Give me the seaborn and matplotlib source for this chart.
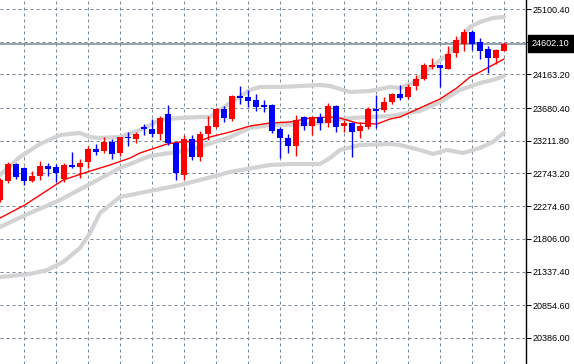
import numpy as np
import pandas as pd
import matplotlib
matplotlib.use("Agg")
import matplotlib.pyplot as plt
import matplotlib.transforms as mtransforms
import seaborn as sns

# ---- OHLC candles (one per bar, oldest first) ----
opens = [22363, 22636, 22879, 22822, 22636, 22707, 22851, 22836, 22664, 22865,
         22836, 22908, 23094, 23066, 23195, 23037, 23266, 23238, 23410, 23381,
         23309, 23596, 23180, 22722, 23238, 22980, 23309, 23410, 23667, 23524,
         23854, 23839, 23796, 23725, 23725, 23381, 23252, 23137, 23553, 23424,
         23553, 23467, 23710, 23424, 23467, 23352, 23410, 23667, 23653, 23768,
         23882, 23839, 23997, 24097, 24269, 24298, 24241, 24470, 24599, 24771,
         24628, 24527, 24398, 24499]
highs = [22679, 22908, 22894, 22836, 22779, 22922, 22894, 22879, 22894, 23051,
         22951, 23137, 23166, 23266, 23238, 23266, 23338, 23338, 23452, 23524,
         23567, 23725, 23195, 23295, 23295, 23352, 23567, 23682, 23710, 23868,
         23997, 23940, 23882, 23796, 23739, 23410, 23309, 23581, 23567, 23567,
         23610, 23753, 23725, 23510, 23481, 23481, 23696, 23868, 23840, 23897,
         24011, 24026, 24155, 24327, 24398, 24305, 24570, 24714, 24814, 24800,
         24685, 24570, 24527, 24628]
lows = [22335, 22607, 22664, 22578, 22621, 22650, 22707, 22621, 22621, 22822,
        22679, 22822, 23008, 23037, 22951, 22994, 23137, 23180, 23295, 23266,
        23223, 23152, 22650, 22650, 22937, 22922, 23223, 23395, 23481, 23496,
        23739, 23696, 23639, 23624, 23324, 22965, 23037, 22994, 23367, 23295,
        23367, 23410, 23338, 23338, 22980, 23252, 23381, 23395, 23624, 23739,
        23796, 23811, 23940, 24083, 24241, 23983, 24241, 24413, 24499, 24513,
        24384, 24183, 24313, 24499]
closes = [22650, 22879, 22693, 22636, 22707, 22851, 22808, 22750, 22865, 22836,
          22894, 23094, 23051, 23195, 23023, 23266, 23252, 23309, 23381, 23309,
          23539, 23180, 22751, 23238, 22980, 23309, 23424, 23667, 23539, 23854,
          23825, 23782, 23696, 23696, 23352, 23252, 23137, 23510, 23424, 23553,
          23467, 23710, 23410, 23467, 23338, 23424, 23667, 23639, 23768, 23882,
          23825, 23983, 24097, 24298, 24298, 24255, 24456, 24656, 24771, 24599,
          24499, 24398, 24513, 24602.10]

# ---- red moving average (bar index, value) ----
ma_bar = [0, 3.1, 5.4, 7.9, 10.9, 13.75, 16.25, 17.5, 20.9, 22.5, 25, 26.25,
          28.75, 31.25, 33.75, 36.25, 38.75, 41.25, 42.5, 44.6, 47.1, 48.75,
          50, 52.5, 55, 57.1, 58.75, 60, 61.6, 63]
ma_val = [22105, 22292, 22464, 22650, 22765, 22865, 22965, 23037, 23166, 23195,
          23209, 23266, 23338, 23424, 23467, 23481, 23538, 23553, 23538, 23467,
          23452, 23524, 23553, 23682, 23811, 23968, 24126, 24198, 24298, 24384]

# ---- Bollinger bands (bar index, value) ----
upper_bar = [0, 2.5, 5, 7.5, 10, 11.25, 12.5, 15, 17.5, 20, 22.5, 25, 26.25,
             28.75, 31.25, 32.5, 35, 37.5, 40, 41.25, 42.5, 43.75, 46.25, 48.75,
             50, 51.6, 53.75, 55.9, 57.5, 58.75, 60, 61.6, 63]
upper_val = [22722, 22980, 23166, 23295, 23324, 23266, 23252, 23266, 23367, 23510,
             23539, 23553, 23553, 23753, 23940, 23983, 23983, 23997, 24011, 23997,
             23954, 23911, 23925, 23983, 23968, 24040, 24255, 24441, 24656, 24843,
             24914, 24972, 24986]
mid_bar = [0, 3.75, 7.5, 11.25, 15, 18.75, 23.75, 28.75, 31.25, 33.75, 38.75,
           41.25, 43.75, 48.75, 52.5, 55, 57.5, 60, 61.6, 63]
mid_val = [21977, 22177, 22363, 22593, 22822, 22994, 23080, 23266, 23395, 23438,
           23452, 23496, 23538, 23567, 23639, 23768, 23940, 24040, 24083, 24140]
lower_bar = [0, 3.75, 5.9, 7.9, 10, 11.25, 12.5, 15, 17.5, 20, 22.5, 25, 28.75,
             33.75, 36.25, 40, 41.25, 42.5, 45, 48.75, 50, 52.5, 54.1, 55.9,
             57.9, 60, 61.6, 63]
lower_val = [21260, 21303, 21360, 21475, 21676, 21890, 22177, 22406, 22464, 22521,
             22578, 22650, 22765, 22865, 22879, 22879, 22965, 23080, 23152, 23166,
             23152, 23080, 23023, 23080, 23037, 23109, 23195, 23324]

# ---- right axis ticks ----
y_ticks = [25100.40, 24631.80, 24163.20, 23680.40, 23211.80, 22743.20,
           22274.60, 21806.00, 21337.40, 20854.60, 20386.00]
y_labels = ["25100.40", "", "24163.20", "23680.40", "23211.80", "22743.20",
            "22274.60", "21806.00", "21337.40", "20854.60", "20386.00"]
last_price = 24602.10

sns.set_theme(style="white")
plt.rcParams['font.family'] = ['Liberation Sans', 'DejaVu Sans']

W, H = 574, 364
fig = plt.figure(figsize=(W / 100, H / 100), dpi=100)
ax = fig.add_axes([0, 0, 526 / W, 1])
ax.set_facecolor("white")
px = 0.72  # one pixel in points

n = len(opens)
idx = np.arange(n)
df = pd.DataFrame({"bar": idx, "open": opens, "high": highs,
                   "low": lows, "close": closes})
df["up"] = df["close"] >= df["open"]
df["color"] = np.where(df["up"], "#ff0000", "#0000ff")

# bands
band_color = "#d3d3d3"
for bx, bv in [(upper_bar, upper_val), (mid_bar, mid_val), (lower_bar, lower_val)]:
    sns.lineplot(x=bx, y=bv, ax=ax, color=band_color, linewidth=3.0,
                 sort=False, estimator=None, zorder=2)
# moving average
sns.lineplot(x=ma_bar, y=ma_val, ax=ax, color="#ff0000", linewidth=1.0,
             sort=False, estimator=None, zorder=3)

# candles
ax.vlines(df["bar"], df["low"], df["high"], colors=df["color"],
          linewidth=1.0, zorder=4)
body = (df["close"] - df["open"]).to_numpy(dtype=float)
body = np.where(np.abs(body) < 20, np.sign(body + 1e-9) * 20, body)
ax.bar(df["bar"], body, bottom=df["open"], width=0.63,
       color=df["color"], linewidth=0, zorder=5)

# price line
ax.axhline(last_price, color="#778899", linewidth=1.1, zorder=1.5)

# limits
ax.set_xlim(0, 65.75)
ax.set_ylim(20013.3, 25229.4)

# grid
ax.set_xticks(np.arange(3, n, 4))
ax.set_yticks(y_ticks)
ax.set_yticklabels(y_labels)
ax.set_axisbelow(True)
ax.grid(True, linestyle=(0, (3, 3)), color="#778899", linewidth=1.0 * px)
ax.tick_params(axis="x", length=0, labelbottom=False)
ax.yaxis.tick_right()
ax.tick_params(axis="y", direction="out", length=3.5, width=px, color="black",
               labelsize=6.5, pad=1.5, labelcolor="black", right=True, left=False)
for s in ["left", "top", "bottom"]:
    ax.spines[s].set_visible(False)
ax.spines["right"].set_color("black")
ax.spines["right"].set_linewidth(1.0)
ax.set_xlabel("")
ax.set_ylabel("")

# price label box
trans = mtransforms.blended_transform_factory(ax.transAxes, ax.transData)
ax.text(1.0 + 6 / 526, last_price, "24602.10", transform=trans, ha="left",
        va="center", color="white", fontsize=6.5, clip_on=False, zorder=10,
        bbox=dict(boxstyle="square,pad=0.45", fc="black", ec="black"))

fig.savefig("out.png", dpi=100)
